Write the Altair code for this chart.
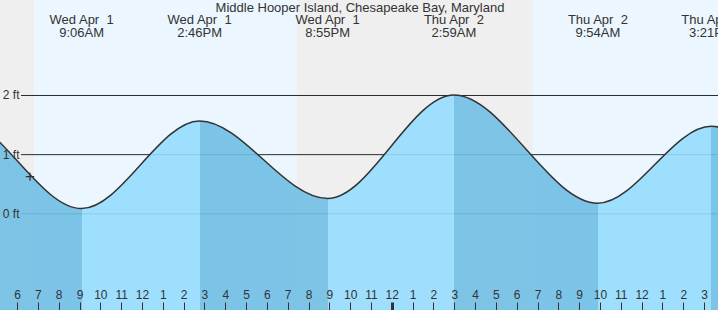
import altair as alt
import pandas as pd

# ---------------- data ----------------
title_text = "Middle Hooper Island, Chesapeake Bay, Maryland"

# visible tide extremes
event_day = ["Wed Apr  1", "Wed Apr  1", "Wed Apr  1", "Thu Apr  2", "Thu Apr  2", "Thu Apr  2"]
event_time = ["9:06AM", "2:46PM", "8:55PM", "2:59AM", "9:54AM", "3:21PM"]
event_height = [0.08, 1.56, 0.25, 2.0, 0.17, 1.47]

# extremes outside the visible window (they only shape the curve ends)
before_hours, before_heights = [-3.3, 3.0], [0.2, 1.66]
after_hours, after_heights = [45.7, 52.0], [0.3, 1.9]

# sunrise / sunset (hours since Wed Apr 1 00:00)
sun_hours = [6.82, 19.45, 30.78]  # Wed rise 6:49AM, Wed set 7:27PM, Thu rise 6:47AM

# current time marker
now_hour, now_height = 6.62, 0.62

x_domain = [5.18, 39.67]
y_domain = [-1.635, 3.606]
hour_ticks = list(range(6, 40))
ft_levels = [0, 1, 2]

W, H = 718, 310
TXT = "#333333"
FONT = "Liberation Sans"


def to_hours(day, t):
    base = 0 if day.startswith("Wed") else 24
    hm, ampm = t[:-2], t[-2:]
    h, m = [int(v) for v in hm.split(":")]
    h = h % 12 + (12 if ampm == "PM" else 0)
    return base + h + m / 60


event_hour = [to_hours(d, t) for d, t in zip(event_day, event_time)]

curve_hours = before_hours + event_hour + after_hours
curve_heights = before_heights + event_height + after_heights
curve = pd.DataFrame({"hour": curve_hours, "height": curve_heights})

labels = pd.DataFrame({
    "hour": event_hour,
    "label": [d.replace("  ", "\u00a0 ") + "\n" + t for d, t in zip(event_day, event_time)],
})

edges = [x_domain[0]] + sun_hours + [x_domain[1]]
bands = pd.DataFrame({
    "hour": edges[:-1],
    "end": edges[1:],
    "kind": ["night", "day", "night", "day"],
})

levels = pd.DataFrame({"height": ft_levels})
now = pd.DataFrame({"hour": [now_hour], "height": [now_height]})
title_df = pd.DataFrame({"t": [title_text]})

# gradient for rising / falling water, built from the extremes
RISING, FALLING = "#96dcfe", "#70bfe5"
span = curve_hours[-1] - curve_hours[0]
stops = []
for i in range(len(curve_hours) - 1):
    c = FALLING if curve_heights[i + 1] < curve_heights[i] else RISING
    o0 = (curve_hours[i] - curve_hours[0]) / span
    o1 = (curve_hours[i + 1] - curve_hours[0]) / span
    stops.append(alt.GradientStop(color=c, offset=o0))
    stops.append(alt.GradientStop(color=c, offset=o1))
water_fill = alt.Gradient(gradient="linear", stops=stops, x1=0, x2=1, y1=0, y2=0)

xs = alt.Scale(domain=x_domain, nice=False, zero=False)
ys = alt.Scale(domain=y_domain, nice=False, zero=False)

x_axis = alt.Axis(
    orient="top", offset=-H, values=hour_ticks,
    labelExpr="((datum.value + 11) % 12) + 1",
    tickSize=8, tickColor=TXT,
    tickWidth={"condition": {"test": "datum.value === 24", "value": 3}, "value": 1},
    labelColor=TXT, labelFontSize=12, labelFont=FONT, labelPadding=1,
    domain=False, grid=False, title=None, labelFlush=False, labelOverlap=False, zindex=1,
)
y_axis = alt.Axis(
    orient="left", offset=-20, values=ft_levels,
    labelExpr="datum.value + ' ft'", ticks=False, tickSize=0,
    labelColor=TXT, labelFontSize=12, labelFont=FONT, labelPadding=1,
    domain=False, grid=False, title=None, zindex=1,
)

X = alt.X("hour:Q", scale=xs, axis=x_axis)
Y = alt.Y("height:Q", scale=ys, axis=y_axis)

band_layer = alt.Chart(bands).mark_rect().encode(
    x=X,
    x2="end:Q",
    color=alt.Color("kind:N", scale=alt.Scale(domain=["day", "night"], range=["#ebf6fe", "#efefef"]), legend=None),
)

grid_layer = alt.Chart(levels).mark_rule(color="#2a2a2a", strokeWidth=1, yOffset=0.5).encode(
    y=Y,
    x=alt.value(21),
    x2=alt.value(W),
)

water_layer = alt.Chart(curve).mark_area(
    interpolate="monotone", clip=True, color=water_fill, opacity=0.9
).encode(
    x=X,
    y=Y,
    y2=alt.datum(y_domain[0]),
)

line_layer = alt.Chart(curve).mark_line(
    interpolate="monotone", clip=True, color=TXT, strokeWidth=1.5
).encode(x=X, y=Y)

now_layer = alt.Chart(now).mark_point(
    shape="M-1,0L1,0M0,-1L0,1", filled=False, stroke=TXT, strokeWidth=1.2, size=70, opacity=1
).encode(x=X, y=Y)

label_layer = alt.Chart(labels).mark_text(
    lineBreak="\n", baseline="alphabetic", align="center", fontSize=13, font=FONT,
    color=TXT, lineHeight=12.5, clip=True,
).encode(
    x=X,
    y=alt.value(24.3),
    text="label:N",
)

title_layer = alt.Chart(title_df).mark_text(
    baseline="alphabetic", align="center", fontSize=13, font=FONT, color=TXT,
).encode(
    x=alt.value(360),
    y=alt.value(11.5),
    text="t:N",
)

chart = alt.layer(
    band_layer, grid_layer, water_layer, line_layer, now_layer, label_layer, title_layer
).properties(
    width=W, height=H, autosize="none", padding=0,
).configure_view(stroke=None).configure(font=FONT)

chart.save("out.html", embed_options={"renderer": "svg", "actions": False})
